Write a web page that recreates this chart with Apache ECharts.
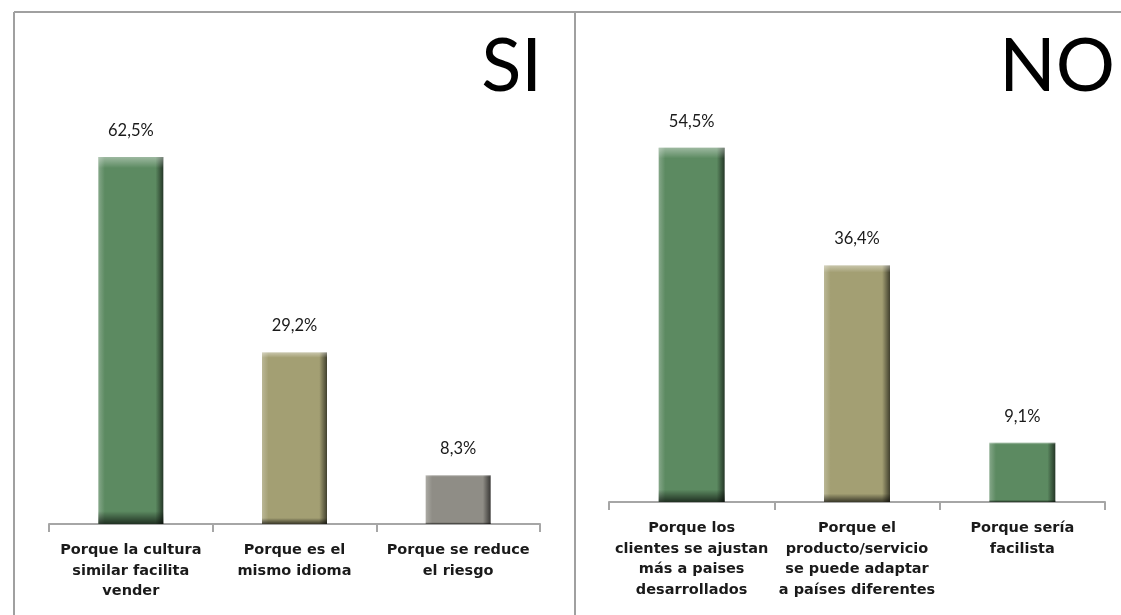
<!DOCTYPE html>
<html>
<head>
<meta charset="utf-8">
<script src="https://cdn.jsdelivr.net/npm/echarts@6/dist/echarts.min.js"></script>
<style>
html,body{margin:0;padding:0;background:#fff;}
#chart{width:1121px;height:615px;}
</style>
</head>
<body>
<div id="chart"></div>
<script>
// ---- data ----
const siCategories = ['Porque la cultura\nsimilar facilita\nvender', 'Porque es el\nmismo idioma', 'Porque se reduce\nel riesgo'];
const siValues = [62.5, 29.2, 8.3];
const noCategories = ['Porque los\nclientes se ajustan\nmás a paises\ndesarrollados', 'Porque el\nproducto/servicio\nse puede adaptar\na países diferentes', 'Porque sería\nfacilista'];
const noValues = [54.5, 36.4, 9.1];
const siColors = ['#5c8a61', '#a39f73', '#8f8d86'];
const noColors = ['#5c8a61', '#a39f73', '#5c8a61'];

function shade(hex, amt) {
  const n = parseInt(hex.slice(1), 16);
  let r = (n >> 16) & 255, g = (n >> 8) & 255, b = n & 255;
  const f = c => Math.max(0, Math.min(255, Math.round(amt >= 0 ? c + (255 - c) * amt : c * (1 + amt))));
  return 'rgb(' + f(r) + ',' + f(g) + ',' + f(b) + ')';
}
function barFill(hex) {
  return {
    type: 'linear', x: 0, y: 0, x2: 1, y2: 0,
    colorStops: [
      {offset: 0, color: shade(hex, 0.25)},
      {offset: 0.1, color: hex},
      {offset: 0.88, color: hex},
      {offset: 1, color: shade(hex, -0.6)}
    ]
  };
}
const overlay = {
  type: 'linear', x: 0, y: 0, x2: 0, y2: 1,
  colorStops: [
    {offset: 0, color: 'rgba(255,255,255,0.4)'},
    {offset: 0.03, color: 'rgba(255,255,255,0)'},
    {offset: 0.965, color: 'rgba(0,0,0,0)'},
    {offset: 1, color: 'rgba(0,0,0,0.65)'}
  ]
};

const catLabel = {
  fontFamily: 'DejaVu Sans', fontWeight: 'bold', fontSize: 14.5, color: '#1a1a1a',
  lineHeight: 20.5, interval: 0, margin: 16
};
const valLabel = {
  show: true, position: 'top', distance: 18,
  fontFamily: 'Lato', fontWeight: 'normal', fontSize: 16.5, color: '#1a1a1a',
  formatter: p => p.value.toFixed(1).replace('.', ',') + '%'
};
const axisLineStyle = {show: true, lineStyle: {color: '#a6a6a6', width: 2}};
const axisTickStyle = {show: true, length: 8, lineStyle: {color: '#a6a6a6', width: 2}};

const chart = echarts.init(document.getElementById('chart'));
chart.setOption({
  animation: false,
  backgroundColor: '#fff',
  title: [
    {text: 'SI', right: 574, top: 25, textStyle: {fontFamily: 'Lato', fontWeight: 'normal', fontSize: 74, color: '#000'}},
    {text: 'NO', right: 1, top: 25, textStyle: {fontFamily: 'Lato', fontWeight: 'normal', fontSize: 74, color: '#000'}}
  ],
  graphic: [
    {type: 'line', shape: {x1: 14, y1: 12, x2: 1121, y2: 12}, style: {stroke: '#a0a0a0', lineWidth: 2}},
    {type: 'line', shape: {x1: 14, y1: 12, x2: 14, y2: 615}, style: {stroke: '#a0a0a0', lineWidth: 2}},
    {type: 'line', shape: {x1: 575, y1: 12, x2: 575, y2: 615}, style: {stroke: '#a0a0a0', lineWidth: 2}}
  ],
  grid: [
    {left: 49, top: 113, width: 491, height: 411},
    {left: 609, top: 112, width: 496, height: 390}
  ],
  xAxis: [
    {type: 'category', gridIndex: 0, data: siCategories, axisLine: axisLineStyle, axisTick: axisTickStyle,
     axisLabel: catLabel},
    {type: 'category', gridIndex: 1, data: noCategories, axisLine: axisLineStyle, axisTick: axisTickStyle,
     axisLabel: catLabel}
  ],
  yAxis: [
    {type: 'value', gridIndex: 0, min: 0, max: 70, show: false, splitLine: {show: false}},
    {type: 'value', gridIndex: 1, min: 0, max: 60, show: false, splitLine: {show: false}}
  ],
  series: [
    {type: 'bar', xAxisIndex: 0, yAxisIndex: 0, barWidth: 65,
     data: siValues.map((v, i) => ({value: v, itemStyle: {color: barFill(siColors[i])}})),
     label: valLabel},
    {type: 'bar', xAxisIndex: 0, yAxisIndex: 0, barWidth: 65, barGap: '-100%', silent: true,
     data: siValues, itemStyle: {color: overlay}},
    {type: 'bar', xAxisIndex: 1, yAxisIndex: 1, barWidth: 66,
     data: noValues.map((v, i) => ({value: v, itemStyle: {color: barFill(noColors[i])}})),
     label: valLabel},
    {type: 'bar', xAxisIndex: 1, yAxisIndex: 1, barWidth: 66, barGap: '-100%', silent: true,
     data: noValues, itemStyle: {color: overlay}}
  ]
});
</script>
</body>
</html>
